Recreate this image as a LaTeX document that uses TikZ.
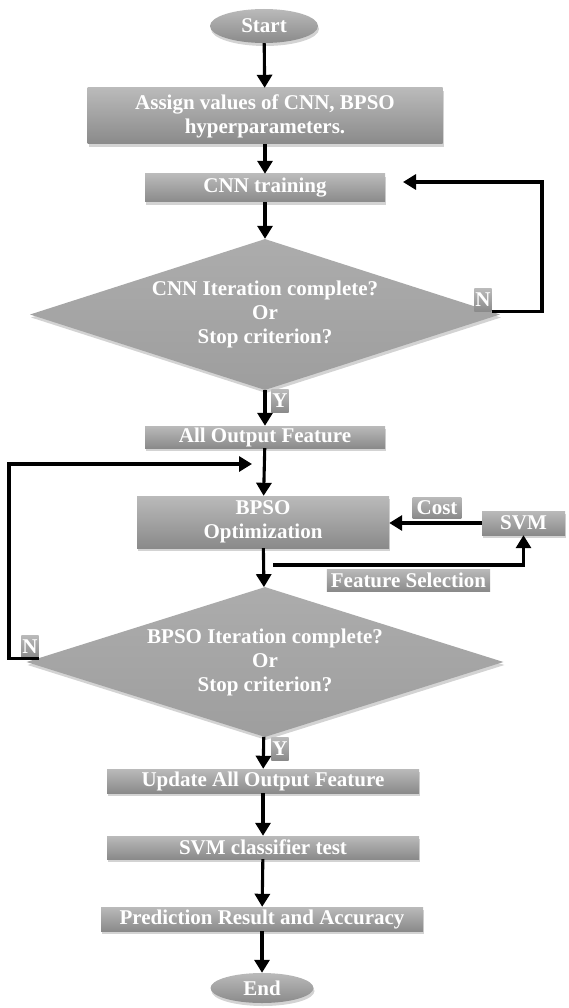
\documentclass[tikz,border=0pt]{standalone}
\usepackage{fontspec}
\setmainfont{Liberation Serif}
\usetikzlibrary{shapes.geometric,arrows.meta,shadows}
\definecolor{boxtop}{RGB}{186,186,186}
\definecolor{boxbot}{RGB}{138,138,138}
\definecolor{dmdtop}{RGB}{172,172,172}
\definecolor{dmdbot}{RGB}{158,158,158}
\begin{document}
\begin{tikzpicture}[x=1pt,y=-1pt,
  txt/.style={text=white, font=\bfseries\fontsize{21}{24}\selectfont, align=center},
  shad/.style={drop shadow={shadow xshift=1pt, shadow yshift=-3pt, opacity=0.35}},
  box/.style={rectangle, top color=boxtop, bottom color=boxbot, draw=none, txt, inner sep=0pt, shad},
  term/.style={ellipse, top color=boxtop, bottom color=boxbot, draw=none, txt, inner sep=0pt, shad, minimum height=34pt},
  dec/.style={diamond, aspect=3.1, top color=dmdtop, bottom color=dmdbot, draw=none, txt, inner sep=0pt, shad},
  lab/.style={rectangle, top color=boxtop, bottom color=boxbot, draw=none, txt, inner xsep=1pt, inner ysep=0pt, minimum height=23pt},
  arr/.style={-{Triangle[length=13pt,width=15pt]}, line width=3.1pt, black},
]
\useasboundingbox (0,0) rectangle (568,1008);

% main column
\node[term, minimum width=108pt] (start) at (264,26) {Start};
\node[box, minimum width=355pt, minimum height=56pt] (assign) at (265,116) {Assign values of CNN, BPSO\\hyperparameters.};
\node[box, minimum width=240pt, minimum height=28pt] (cnn) at (265,188) {CNN training};
\node[dec, minimum width=470pt, minimum height=151pt] (d1) at (265,314.5) {CNN Iteration complete?\\Or\\Stop criterion?};
\node[box, minimum width=240pt, minimum height=22pt] (aof) at (265,437) {All Output Feature};
\node[box, minimum width=252pt, minimum height=52pt] (bpso) at (263,522) {BPSO\\Optimization};
\node[box, minimum width=83pt, minimum height=24pt] (svm) at (523.5,523) {SVM};
\node[dec, minimum width=477pt, minimum height=150pt] (d2) at (265,662) {BPSO Iteration complete?\\Or\\Stop criterion?};
\node[box, minimum width=312pt, minimum height=24pt] (upd) at (263,781) {Update All Output Feature};
\node[box, minimum width=312pt, minimum height=23pt] (svmt) at (263,847.5) {SVM classifier test};
\node[box, minimum width=322pt, minimum height=24pt] (pred) at (262,919) {Prediction Result and Accuracy};
\node[term, minimum width=103pt, minimum height=30pt] (end) at (262,988) {End};

% small labels
\node[lab] (n1) at (483,300) {N};
\node[lab] (y1) at (280,401) {Y};
\node[lab, inner xsep=4pt, minimum height=21pt] (cost) at (437,507.5) {Cost};
\node[lab, inner xsep=4pt, minimum height=22pt] (fsel) at (408.5,580) {Feature Selection};
\node[lab] (n2) at (30,646.5) {N};
\node[lab] (y2) at (280,748.5) {Y};

% coordinates for free ends
\coordinate (r1) at (542,182);
\coordinate (t1) at (403,182);
\coordinate (l1) at (9,464);
\coordinate (t2) at (252,464);
\coordinate (fs) at (273,565);

% connectors
\draw[arr] (start) -- (assign);
\draw[arr] (assign) -- (cnn);
\draw[arr] (cnn) -- (d1);
\draw[arr] (d1) -- (aof);
\draw[arr] (n1.south east) -| (r1) -- (t1);
\draw[arr] (aof) -- (bpso);
\draw[arr] (n2.south east) -| (l1) -- (t2);
\draw[arr] (svm.west) -- (svm.west -| bpso.east);
\draw[arr] (fs) -| (svm.south);
\draw[arr] (bpso) -- (d2);
\draw[arr] (d2) -- (upd);
\draw[arr] (upd) -- (svmt);
\draw[arr] (svmt) -- (pred);
\draw[arr] (pred) -- (end);
\end{tikzpicture}
\end{document}
